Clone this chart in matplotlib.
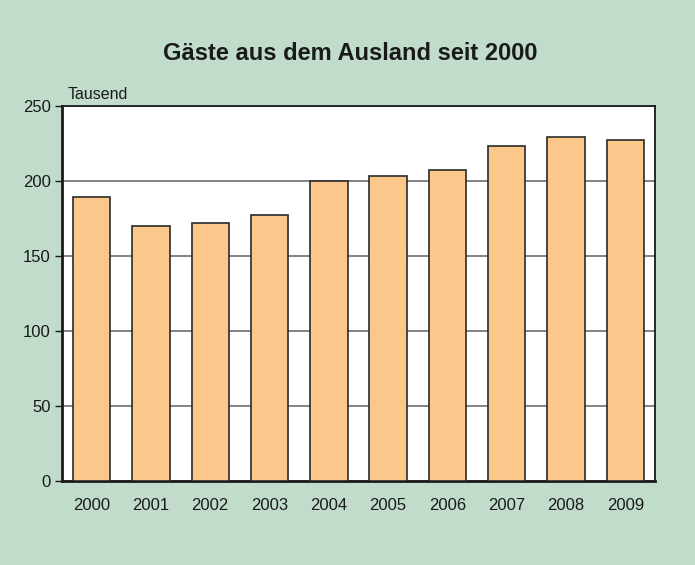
import matplotlib.pyplot as plt

jahre = ["2000", "2001", "2002", "2003", "2004", "2005", "2006", "2007", "2008", "2009"]
gaeste = [189, 170, 172, 177, 200, 203, 207, 223, 229, 227]  # Tausend

bg = "#c1dccb"
plt.rcParams["font.family"] = ["Liberation Sans", "DejaVu Sans"]

fig = plt.figure(figsize=(6.95, 5.65), dpi=100, facecolor=bg)
ax = fig.add_axes([0.0892, 0.1487, 0.8532, 0.6637])

x = range(len(jahre))
ax.bar(x, gaeste, width=0.63, color="#fcc78a", edgecolor="#2a2a2a", linewidth=1.2, zorder=3)

ax.set_xlim(-0.5, len(jahre) - 0.5)
ax.set_ylim(0, 250)
ax.set_yticks(range(0, 251, 50))
ax.set_xticks(list(x))
ax.set_xticklabels(jahre)
ax.yaxis.grid(True, color="#6e6e6e", linewidth=1.2, zorder=0)
ax.set_axisbelow(True)

ax.tick_params(axis="x", length=0, pad=12, labelsize=12, colors="#1a1a1a")
ax.tick_params(axis="y", length=5, width=1, pad=3, labelsize=12, colors="#1a1a1a")
for s in ax.spines.values():
    s.set_color("#1a1a1a")
    s.set_linewidth(1.3)
ax.spines["left"].set_linewidth(2)
ax.spines["bottom"].set_linewidth(2)

fig.text(0.504, 0.906, "Gäste aus dem Ausland seit 2000", ha="center", va="center",
         fontsize=17, fontweight="bold", color="#1a1a1a")
fig.text(0.098, 0.832, "Tausend", ha="left", va="center", fontsize=11.5, color="#1a1a1a")

fig.savefig("out.png", dpi=100, facecolor=bg)
